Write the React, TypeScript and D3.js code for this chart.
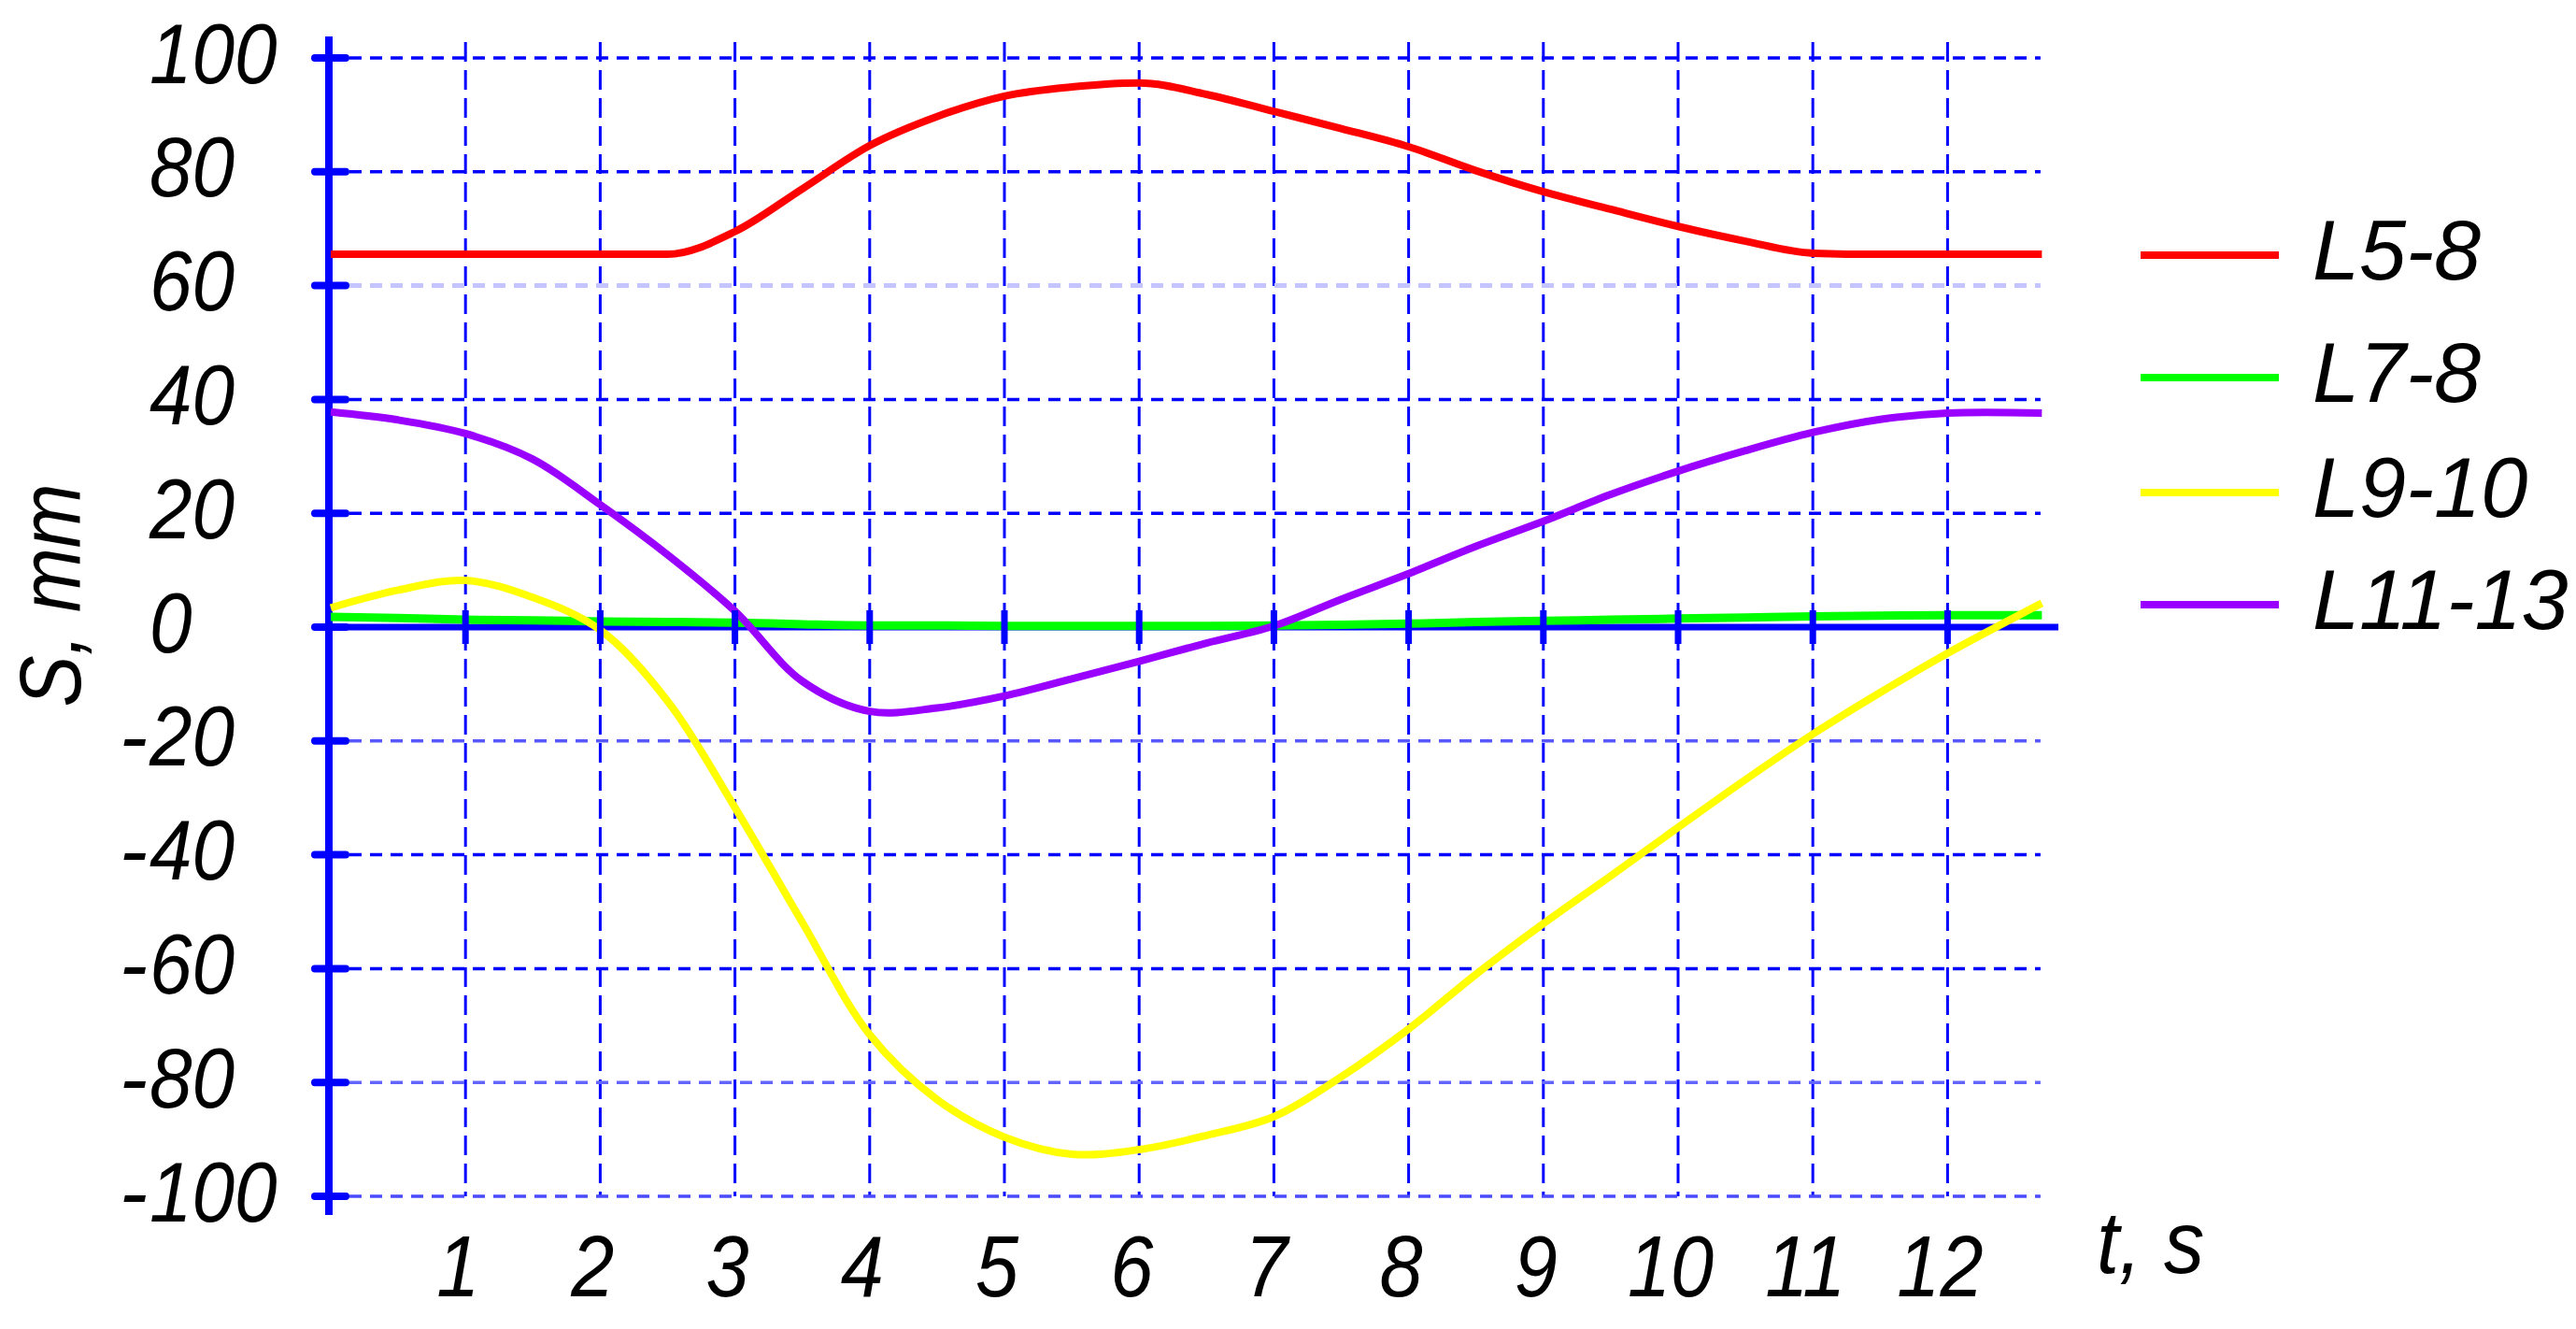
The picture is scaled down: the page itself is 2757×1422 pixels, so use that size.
import React from 'react';
import * as d3 from 'd3';

// t, s
const time = [
	0, 0.5, 1, 1.5, 2, 2.5, 3, 3.5, 4, 4.5, 5, 5.5, 6, 6.5, 7, 7.5, 8, 8.5, 9,
	9.5, 10, 10.5, 11, 11.5, 12, 12.7,
];

// S, mm per link
const l5_8 = [
	65.5, 65.5, 65.5, 65.5, 65.5, 65.5, 69.5, 77, 84.6, 89.7, 93.3, 94.9, 95.6,
	93.6, 90.6, 87.6, 84.4, 80.2, 76.5, 73.4, 70.4, 67.8, 65.7, 65.5, 65.5, 65.5,
];
const l7_8 = [
	1.8, 1.6, 1.3, 1.2, 1.0, 0.9, 0.8, 0.5, 0.3, 0.3, 0.2, 0.2, 0.2, 0.2, 0.3,
	0.4, 0.6, 0.9, 1.1, 1.3, 1.5, 1.7, 1.9, 2.0, 2.1, 2.1,
];
const l9_10 = [
	3.4, 6.5, 8.2, 5.2, -0.5, -13, -31.7, -51.9, -71.6, -83, -89.6, -92.6, -91.8,
	-89.3, -86, -79, -70.6, -61, -52.1, -43.7, -35.2, -26.8, -18.8, -11.5, -4.6,
	4.2,
];
const l11_13 = [
	37.8, 36.4, 34, 29.5, 21.5, 12.7, 2.8, -9.5, -14.8, -14.2, -12.1, -9.1, -6,
	-2.8, 0.2, 4.9, 9.4, 14.2, 18.6, 23.3, 27.4, 31, 34.2, 36.5, 37.6, 37.6,
];

const seriesNames = ['L5-8', 'L7-8', 'L9-10', 'L11-13'];
const seriesValues = [l5_8, l7_8, l9_10, l11_13];

const yTickValues = [100, 80, 60, 40, 20, 0, -20, -40, -60, -80, -100];
const xTickValues = [1, 2, 3, 4, 5, 6, 7, 8, 9, 10, 11, 12];

// styling
const seriesColors = ['#ff0000', '#00ff00', '#ffff00', '#9900ff'];
const gridColor: Record<number, string> = {
	60: '#c4c4ff',
	[-20]: '#5858ff',
	[-80]: '#6464ff',
	[-100]: '#4a4aff',
};

const W = 2757;
const H = 1422;
const font = '"Liberation Sans", Arial, sans-serif';

const App: React.FC = () => {
	const x = d3.scaleLinear().domain([0, 12]).range([354, 354 + 12 * 144.2]);
	const y = d3.scaleLinear().domain([-100, 100]).range([1280, 62]);
	const xEnd = x(12.69);

	// flat stretches (L5-8, L7-8) keep monotone, the rest smooth catmull-rom
	const lineFor = (i: number) =>
		d3
			.line<number>()
			.x((_, k) => x(time[k]))
			.y((d) => y(d))
			.curve(i < 2 ? d3.curveMonotoneX : d3.curveCatmullRom.alpha(0.5));

	const y0 = y(0);

	return (
		<svg
			width={W}
			height={H}
			viewBox={`0 0 ${W} ${H}`}
			style={{ position: 'absolute', left: 0, top: 0, background: '#fff' }}>
			<rect width={W} height={H} fill='#fff' />

			{/* vertical grid */}
			{xTickValues.map((t) => (
				<line
					key={'vx' + t}
					x1={x(t)}
					x2={x(t)}
					y1={45}
					y2={y(-100)}
					stroke='#0000ff'
					strokeWidth={3}
					strokeDasharray='21 9'
				/>
			))}

			{/* horizontal grid */}
			{yTickValues
				.filter((v) => v !== 0)
				.map((v) => (
					<line
						key={'hy' + v}
						x1={352}
						x2={xEnd}
						y1={y(v)}
						y2={y(v)}
						stroke={gridColor[v] || '#0000ff'}
						strokeWidth={v === 60 ? 5 : 3.5}
						strokeDasharray='13 9'
					/>
				))}

			{/* axes */}
			<line x1={352} x2={352} y1={39} y2={1300} stroke='#0000ff' strokeWidth={8} />
			<line x1={352} x2={2203} y1={y0} y2={y0} stroke='#0000ff' strokeWidth={7} />

			{/* curves */}
			{seriesValues.map((vals, i) => (
				<path
					key={seriesNames[i]}
					d={lineFor(i)(vals) || ''}
					fill='none'
					stroke={seriesColors[i]}
					strokeWidth={i === 1 ? 9 : 8}
				/>
			))}

			{/* ticks */}
			{yTickValues.map((v) => (
				<line
					key={'ty' + v}
					x1={337}
					x2={370}
					y1={y(v)}
					y2={y(v)}
					stroke='#0000ff'
					strokeWidth={8}
					strokeLinecap='round'
				/>
			))}
			{xTickValues.map((t) => (
				<line
					key={'tx' + t}
					x1={x(t)}
					x2={x(t)}
					y1={y0 - 18}
					y2={y0 + 18}
					stroke='#0000ff'
					strokeWidth={7}
				/>
			))}

			{/* y tick labels */}
			{yTickValues.map((v) => (
				<g key={'ly' + v} fontFamily={font} fontStyle='italic' fontSize={91} fill='#000'>
					{v < 0 && (
						<text
							x={158}
							y={y(v) - 5}
							textAnchor='end'
							dominantBaseline='central'>
							-
						</text>
					)}
					<text
						transform={`translate(160, ${y(v) - 5}) scale(0.9, 1)`}
						dominantBaseline='central'>
						{Math.abs(v)}
					</text>
				</g>
			))}

			{/* x tick labels */}
			{xTickValues.map((t) => (
				<text
					key={'lx' + t}
					transform={`translate(${x(t) - 8}, 1387) scale(0.9, 1)`}
					textAnchor='middle'
					fontFamily={font}
					fontStyle='italic'
					fontSize={92}
					fill='#000'>
					{t}
				</text>
			))}

			{/* axis titles */}
			<text
				transform='translate(2244, 1362) scale(0.92, 1)'
				fontFamily={font}
				fontStyle='italic'
				fontSize={94}
				fill='#000'>
				t, s
			</text>
			<text
				transform='translate(86, 637) rotate(-90) scale(0.9, 1)'
				textAnchor='middle'
				fontFamily={font}
				fontStyle='italic'
				fontSize={92}
				fill='#000'>
				S, mm
			</text>

			{/* legend */}
			{seriesNames.map((name, i) => {
				const ly = [273, 404, 527, 647][i];
				return (
					<g key={'lg' + name}>
						<line
							x1={2291}
							x2={2439}
							y1={ly}
							y2={ly}
							stroke={seriesColors[i]}
							strokeWidth={8}
						/>
						<text
							x={2475}
							y={ly - 5}
							dominantBaseline='central'
							fontFamily={font}
							fontStyle='italic'
							fontSize={90}
							fill='#000'>
							{name}
						</text>
					</g>
				);
			})}
		</svg>
	);
};

export default App;
